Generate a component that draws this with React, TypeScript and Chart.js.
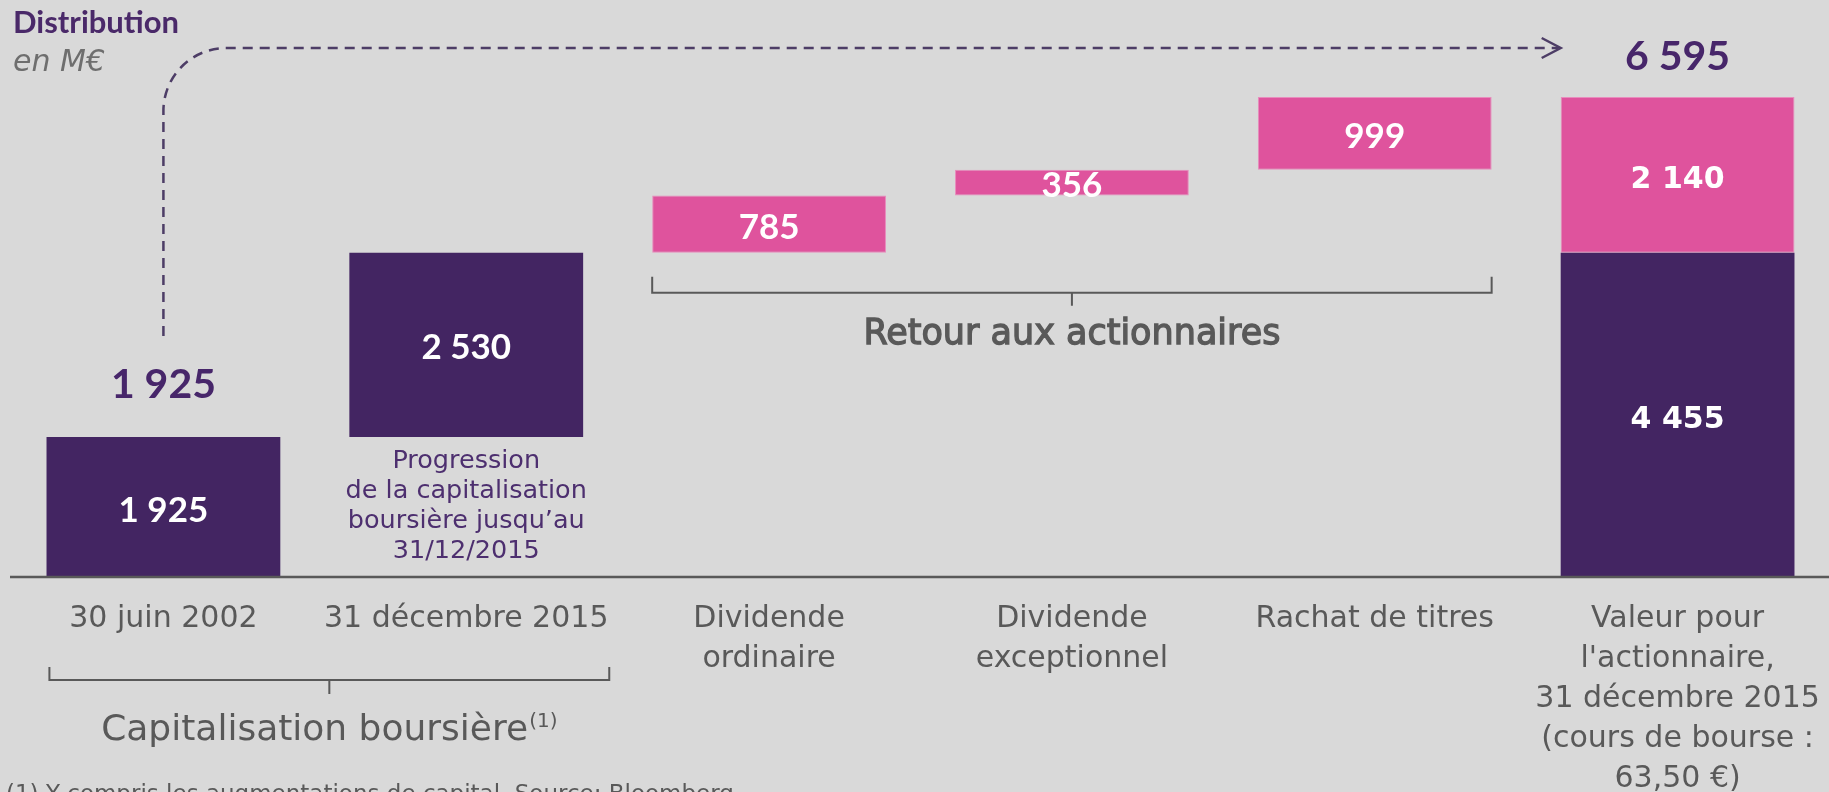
import React, { useEffect, useRef } from 'react';
import { Chart, registerables } from 'chart.js';

Chart.register(...registerables);

// ---------- data ----------
const categories: string[][] = [
  ['30 juin 2002'],
  ['31 décembre 2015'],
  ['Dividende', 'ordinaire'],
  ['Dividende', 'exceptionnel'],
  ['Rachat de titres'],
  ['Valeur pour', "l'actionnaire,", '31 décembre 2015', '(cours de bourse :', '63,50 €)'],
];
// market capitalisation pieces (purple) and shareholder returns (pink), M€
const capitalisation: (number | null)[] = [1925, 2530, null, null, null, 4455];
const retourActionnaires: (number | null)[] = [null, null, 785, 356, 999, 2140];
const yAxisMax = 7900;

const titleText = 'Distribution';
const unitText = 'en M€';
const progressionLines = ['Progression', 'de la capitalisation', 'boursière jusqu’au', '31/12/2015'];
const groupCapText = 'Capitalisation boursière';
const groupCapNote = '(1)';
const groupRetourText = 'Retour aux actionnaires';
const footnoteText = '(1) Y compris les augmentations de capital. Source: Bloomberg';

// ---------- styles ----------
const BG = '#d9d9d9';
const PURPLE = '#432562';
const PINK = '#df539d';
const PINK_EDGE = '#e88cbd';
const GRAY = '#595959';
const TITLE_PURPLE = '#4a2969';
const LABEL_PURPLE = '#47266a';
const ARROW = '#4d3d66';

type Range = [number, number] | null;

function buildRanges() {
  const purple: Range[] = [];
  const pink: Range[] = [];
  let run = 0;
  const last = categories.length - 1;
  for (let i = 0; i < categories.length; i++) {
    const c = capitalisation[i];
    const r = retourActionnaires[i];
    if (i === last) {
      const cv = c ?? 0;
      purple.push(c != null ? [0, cv] : null);
      pink.push(r != null ? [cv, cv + r] : null);
    } else {
      if (c != null) { purple.push([run, run + c]); run += c; } else purple.push(null);
      if (r != null) { pink.push([run, run + r]); run += r; } else pink.push(null);
    }
  }
  return { purple, pink };
}

function fmt(n: number): string {
  return String(Math.round(n)).replace(/\B(?=(\d{3})+(?!\d))/g, ' ');
}

export default function App() {
  const ref = useRef<HTMLCanvasElement | null>(null);

  useEffect(() => {
    const canvas = ref.current;
    if (!canvas) return;
    const { purple, pink } = buildRanges();
    const lastIdx = categories.length - 1;

    const annotationPlugin = {
      id: 'annotations',
      afterDatasetsDraw(chart: any) {
        const ctx: CanvasRenderingContext2D = chart.ctx;
        const { bottom } = chart.chartArea;
        const metaP = chart.getDatasetMeta(0);
        const metaK = chart.getDatasetMeta(1);
        ctx.save();
        // baseline
        ctx.strokeStyle = GRAY;
        ctx.lineWidth = 2.5;
        ctx.beginPath();
        ctx.moveTo(10, bottom);
        ctx.lineTo(chart.width, bottom);
        ctx.stroke();

        // value labels inside bars
        ctx.fillStyle = '#ffffff';
        ctx.textAlign = 'center';
        ctx.textBaseline = 'alphabetic';
        const drawVal = (el: any, range: Range, i: number) => {
          if (!range || !el) return;
          const cy = (el.y + el.base) / 2 + 2;
          if (i === lastIdx) {
            ctx.font = 'bold 30px "DejaVu Sans"';
            ctx.fillText(fmt(range[1] - range[0]), el.x, cy + 0.729 * 30 / 2);
          } else {
            ctx.font = 'bold 35px Lato';
            ctx.fillText(fmt(range[1] - range[0]), el.x, cy + 0.72 * 35 / 2);
          }
        };
        purple.forEach((r, i) => drawVal(metaP.data[i], r, i));
        pink.forEach((r, i) => drawVal(metaK.data[i], r, i));
        ctx.restore();
      },
      afterDraw(chart: any) {
        const ctx: CanvasRenderingContext2D = chart.ctx;
        const { bottom } = chart.chartArea;
        const xs = chart.scales.x;
        const metaP = chart.getDatasetMeta(0);
        const metaK = chart.getDatasetMeta(1);
        ctx.save();

        // title
        ctx.textAlign = 'left';
        ctx.textBaseline = 'alphabetic';
        ctx.fillStyle = TITLE_PURPLE;
        ctx.font = 'bold 31px Lato';
        ctx.fillText(titleText, 13, 33);
        ctx.fillStyle = '#6e6e6e';
        ctx.font = 'italic 30px "DejaVu Sans"';
        ctx.fillText(unitText, 13, 71);

        // top totals
        const first = metaP.data[0];
        const lastTop = metaK.data[lastIdx];
        const firstVal = purple[0] ? purple[0][1] : 0;
        const totalVal = pink[lastIdx] ? (pink[lastIdx] as [number, number])[1] : 0;
        ctx.textAlign = 'center';
        ctx.fillStyle = LABEL_PURPLE;
        ctx.font = 'bold 41px Lato';
        ctx.fillText(fmt(firstVal), first.x, first.y - 39);
        ctx.fillText(fmt(totalVal), lastTop.x, lastTop.y - 27);

        // dashed arrow
        const x0 = first.x;
        const yStart = first.y - 101;
        const hy = lastTop.y - 49;
        const xEnd = lastTop.x - lastTop.width / 2;
        const rad = 63;
        ctx.strokeStyle = ARROW;
        ctx.lineWidth = 2.5;
        ctx.setLineDash([10, 7]);
        ctx.beginPath();
        ctx.moveTo(x0, yStart);
        ctx.lineTo(x0, hy + rad);
        ctx.arcTo(x0, hy, x0 + rad, hy, rad);
        ctx.lineTo(xEnd - 2, hy);
        ctx.stroke();
        ctx.setLineDash([]);
        ctx.beginPath();
        ctx.moveTo(xEnd - 19, hy - 10);
        ctx.lineTo(xEnd, hy);
        ctx.lineTo(xEnd - 19, hy + 10);
        ctx.stroke();

        // progression text
        const b2 = metaP.data[1];
        ctx.fillStyle = '#4d2f6f';
        ctx.font = '25.5px "DejaVu Sans"';
        progressionLines.forEach((t, i) => ctx.fillText(t, b2.x, b2.base + 31 + i * 30));

        // bracket helper
        const bracket = (xl: number, xr: number, yTop: number, yH: number, yTick: number) => {
          ctx.strokeStyle = GRAY;
          ctx.lineWidth = 2;
          ctx.beginPath();
          ctx.moveTo(xl, yTop);
          ctx.lineTo(xl, yH);
          ctx.lineTo(xr, yH);
          ctx.lineTo(xr, yTop);
          ctx.moveTo((xl + xr) / 2, yH);
          ctx.lineTo((xl + xr) / 2, yTick);
          ctx.stroke();
        };

        // capitalisation bracket
        const cxl = xs.getPixelForValue(0) - 114;
        const cxr = xs.getPixelForValue(1) + 143;
        bracket(cxl, cxr, bottom + 90, bottom + 103, bottom + 117);
        ctx.fillStyle = GRAY;
        ctx.font = '36px "DejaVu Sans"';
        const w1 = ctx.measureText(groupCapText).width;
        ctx.font = '20px "DejaVu Sans"';
        const w2 = ctx.measureText(groupCapNote).width;
        const cc = (cxl + cxr) / 2;
        const sx = cc - (w1 + w2 + 1) / 2;
        ctx.textAlign = 'left';
        ctx.font = '36px "DejaVu Sans"';
        ctx.fillText(groupCapText, sx, bottom + 163);
        ctx.font = '20px "DejaVu Sans"';
        ctx.fillText(groupCapNote, sx + w1 + 1, bottom + 150);

        // retour bracket
        const k2 = metaK.data[2];
        const k4 = metaK.data[4];
        const rxl = k2.x - k2.width / 2;
        const rxr = k4.x + k4.width / 2;
        const ryH = k2.base + 40;
        bracket(rxl, rxr, ryH - 16, ryH, ryH + 13);
        ctx.textAlign = 'center';
        ctx.fillStyle = GRAY;
        ctx.strokeStyle = GRAY;
        ctx.lineWidth = 1.3;
        ctx.font = '35px "DejaVu Sans"';
        ctx.fillText(groupRetourText, (rxl + rxr) / 2, ryH + 51);
        ctx.strokeText(groupRetourText, (rxl + rxr) / 2, ryH + 51);

        // footnote
        ctx.textAlign = 'left';
        ctx.fillStyle = GRAY;
        ctx.font = '23px "DejaVu Sans"';
        ctx.fillText(footnoteText, 6, 801);

        ctx.restore();
      },
    };

    const chart = new Chart(canvas, {
      type: 'bar',
      data: {
        labels: categories,
        datasets: [
          {
            label: 'Capitalisation boursière',
            data: purple as any,
            backgroundColor: PURPLE,
            borderWidth: 0,
            barPercentage: 0.772,
            categoryPercentage: 1,
          },
          {
            label: 'Retour aux actionnaires',
            data: pink as any,
            backgroundColor: PINK,
            borderColor: PINK_EDGE,
            borderWidth: 1,
            borderSkipped: false,
            barPercentage: 0.772,
            categoryPercentage: 1,
          },
        ],
      },
      options: {
        responsive: false,
        animation: false,
        devicePixelRatio: 1,
        layout: { padding: { left: 12, right: 0, top: 2, bottom: 0 } },
        plugins: {
          legend: { display: false },
          tooltip: { enabled: false },
          title: { display: false },
        },
        scales: {
          x: {
            stacked: true,
            offset: true,
            grid: { display: false, drawTicks: false },
            border: { display: false },
            ticks: {
              autoSkip: false,
              maxRotation: 0,
              minRotation: 0,
              padding: 22,
              color: GRAY,
              font: { family: 'DejaVu Sans', size: 30, lineHeight: 1.335 },
            },
            afterFit: (s: any) => {
              s.height = 215;
              s.paddingLeft = 0;
              s.paddingRight = 0;
            },
          },
          y: { display: false, stacked: false, min: 0, max: yAxisMax },
        },
      },
      plugins: [annotationPlugin],
    } as any);

    return () => chart.destroy();
  }, []);

  return (
    <div style={{ position: 'fixed', left: 0, top: 0, width: 1829, height: 792, background: BG, overflow: 'hidden' }}>
      <canvas ref={ref} width={1829} height={792} style={{ display: 'block' }} />
    </div>
  );
}
